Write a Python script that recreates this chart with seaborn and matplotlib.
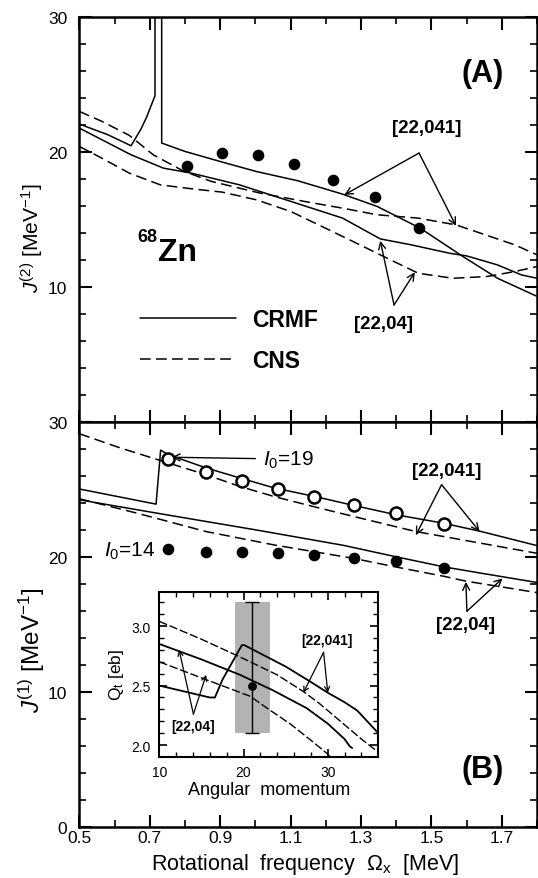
import numpy as np
import matplotlib
matplotlib.use('Agg')
import matplotlib.pyplot as plt
import seaborn as sns
from matplotlib.lines import Line2D

# ---------------- data: panel (A)  J(2) ----------------
a_exp_omega = [0.806, 0.906, 1.008, 1.111, 1.220, 1.339, 1.466]
a_exp_j2 = [19.0, 19.9, 19.75, 19.1, 17.9, 16.7, 14.4]

a_crmf041_omega_lo = [0.50, 0.58, 0.647, 0.675, 0.691, 0.715, 0.715]
a_crmf041_j2_lo = [22.08, 21.3, 20.47, 21.7, 22.58, 24.18, 32.0]
a_crmf041_omega_hi = [0.734, 0.734, 0.80, 0.906, 1.003, 1.121, 1.248, 1.346, 1.468, 1.59, 1.688, 1.80]
a_crmf041_j2_hi = [32.0, 20.67, 20.05, 19.26, 18.56, 17.87, 16.88, 15.97, 14.36, 12.25, 10.64, 9.3]

a_crmf04_omega = [0.50, 0.647, 0.739, 0.818, 0.955, 1.013, 1.101, 1.248, 1.355, 1.443, 1.551, 1.60, 1.688, 1.756, 1.80]
a_crmf04_j2 = [21.78, 19.8, 18.81, 18.44, 17.57, 17.08, 16.34, 15.1, 13.56, 13.12, 12.5, 12.3, 11.63, 10.89, 10.64]

a_cns041_omega = [0.50, 0.564, 0.642, 0.71, 0.798, 0.876, 1.013, 1.15, 1.248, 1.346, 1.463, 1.57, 1.639, 1.737, 1.80]
a_cns041_j2 = [23.02, 22.28, 21.24, 19.8, 18.56, 17.82, 16.96, 16.29, 15.84, 15.35, 15.1, 14.6, 13.99, 13.12, 12.38]

a_cns04_omega = [0.50, 0.564, 0.642, 0.73, 0.818, 0.906, 1.003, 1.101, 1.199, 1.297, 1.394, 1.463, 1.561, 1.658, 1.737, 1.80]
a_cns04_j2 = [20.42, 19.55, 18.44, 17.57, 17.28, 17.03, 16.46, 15.59, 14.36, 13.12, 11.88, 11.01, 10.64, 10.77, 11.14, 11.51]

# ---------------- data: panel (B)  J(1) ----------------
b_exp_omega = [0.752, 0.859, 0.961, 1.063, 1.168, 1.280, 1.400, 1.537]
b_i19_j1 = [27.27, 26.26, 25.59, 25.02, 24.45, 23.85, 23.23, 22.46]
b_i14_j1 = [20.55, 20.35, 20.35, 20.28, 20.13, 19.93, 19.68, 19.19]

b_crmf041_omega = [0.50, 0.718, 0.731, 0.752, 0.86, 0.957, 1.055, 1.168, 1.28, 1.40, 1.534, 1.642, 1.80]
b_crmf041_j1 = [25.02, 23.9, 27.9, 27.57, 26.58, 25.83, 25.09, 24.47, 23.8, 23.11, 22.49, 21.87, 20.83]

b_crmf04_omega = [0.50, 0.75, 1.00, 1.25, 1.40, 1.537, 1.65, 1.80]
b_crmf04_j1 = [24.22, 23.1, 22.0, 20.85, 20.0, 19.25, 18.75, 18.1]

b_cns041_omega = [0.50, 0.615, 0.752, 0.86, 0.957, 1.055, 1.168, 1.28, 1.456, 1.642, 1.80]
b_cns041_j1 = [29.11, 28.07, 26.95, 26.08, 25.2, 24.45, 23.7, 22.98, 21.87, 21.0, 20.26]

b_cns04_omega = [0.50, 0.664, 0.86, 1.055, 1.28, 1.397, 1.537, 1.598, 1.80]
b_cns04_j1 = [24.3, 23.23, 21.87, 20.87, 19.88, 19.26, 18.55, 18.2, 17.35]

# ---------------- data: inset  Qt vs I ----------------
i_crmf041_spin = [10, 13, 16, 16.6, 17.5, 19.8, 20.1, 22, 25, 28, 30, 32, 33.5, 36]
i_crmf041_qt = [2.50, 2.45, 2.40, 2.40, 2.55, 2.84, 2.84, 2.77, 2.66, 2.53, 2.44, 2.36, 2.29, 2.10]

i_cns041_spin = [10, 15, 19.6, 24, 27.1, 29, 31.5, 34, 36]
i_cns041_qt = [3.04, 2.89, 2.74, 2.59, 2.45, 2.35, 2.20, 2.05, 1.94]

i_crmf04_spin = [10, 15, 19.6, 23.5, 27.5, 30, 32, 32.6, 32.9]
i_crmf04_qt = [2.85, 2.72, 2.59, 2.46, 2.31, 2.18, 2.05, 1.99, 1.975]

i_cns04_spin = [10, 15, 20.8, 23, 25.6, 28, 29.9, 30.3]
i_cns04_qt = [2.70, 2.565, 2.41, 2.30, 2.175, 2.04, 1.93, 1.90]

i_exp_spin = [21.0]
i_exp_qt = [2.5]
i_exp_err_lo = [0.4]
i_exp_err_hi = [0.7]
i_band_spin = [19.0, 23.2]
i_band_lo = 2.1
i_band_hi = 3.2

x_ticks = [0.5, 0.7, 0.9, 1.1, 1.3, 1.5, 1.7]
x_ticklabels = ['0.5', '0.7', '0.9', '1.1', '1.3', '1.5', '1.7']
y_ticks = [0, 10, 20, 30]

# ---------------- style ----------------
sns.set_style('ticks')
plt.rcParams['font.family'] = ['Liberation Sans', 'DejaVu Sans']
plt.rcParams['mathtext.fontset'] = 'custom'
plt.rcParams['mathtext.rm'] = 'Liberation Sans'
plt.rcParams['mathtext.it'] = 'Liberation Sans:italic'
plt.rcParams['mathtext.bf'] = 'Liberation Sans:bold'
for k in ['text.color', 'axes.labelcolor', 'xtick.color', 'ytick.color', 'axes.edgecolor']:
    plt.rcParams[k] = 'black'

DASH = (0, (7, 3.5))
LW = 1.1

fig = plt.figure(figsize=(5.38, 8.79), dpi=100)
axA = fig.add_axes([0.1474, 0.5191, 0.8507, 0.4601])
axB = fig.add_axes([0.1474, 0.0580, 0.8507, 0.4611])
axI = fig.add_axes([0.2961, 0.1377, 0.4071, 0.1881])


def curve(ax, x, y, dashed=False, lw=LW, dash=DASH):
    sns.lineplot(x=x, y=y, ax=ax, color='black', lw=lw, sort=False,
                 estimator=None, linestyle=dash if dashed else '-')


def arrows(ax, apex, tips, lw=1.0, hw=0.25, hl=0.5):
    for t in tips:
        ax.annotate('', xy=t, xytext=apex,
                    arrowprops=dict(arrowstyle=f'->,head_length={hl},head_width={hw}',
                                    lw=lw, color='black', shrinkA=0, shrinkB=0))


def style_main(ax, show_x):
    ax.set_xlim(0.5, 1.8)
    ax.set_ylim(0, 30)
    ax.set_xticks(x_ticks)
    ax.set_xticks(np.arange(0.6, 1.81, 0.2), minor=True)
    ax.set_yticks(y_ticks)
    ax.set_yticks(np.arange(2, 30, 2), minor=True)
    ax.tick_params(which='both', direction='in', top=True, right=True, labelsize=12.5,
                   colors='black')
    ax.tick_params(which='major', length=9, width=1.5)
    ax.tick_params(which='minor', length=5, width=1.2)
    ax.tick_params(axis='y', pad=8.5)
    ax.tick_params(axis='x', pad=2.5)
    if show_x:
        ax.set_xticklabels(x_ticklabels)
    else:
        ax.set_xticklabels([])
    for s in ax.spines.values():
        s.set_linewidth(1.8)
        s.set_color('black')
    ax.set_xlabel('')
    ax.set_ylabel('')


# ---------------- panel A ----------------
curve(axA, a_crmf041_omega_lo, a_crmf041_j2_lo)
curve(axA, a_crmf041_omega_hi, a_crmf041_j2_hi)
curve(axA, a_crmf04_omega, a_crmf04_j2)
curve(axA, a_cns041_omega, a_cns041_j2, dashed=True)
curve(axA, a_cns04_omega, a_cns04_j2, dashed=True)
sns.scatterplot(x=a_exp_omega, y=a_exp_j2, ax=axA, s=70, color='black',
                edgecolor='black', linewidth=0, zorder=5)
style_main(axA, False)
axA.set_yticklabels(['', '10', '20', '30'])

axA.text(1.645, 25.9, '(A)', fontsize=22, fontweight='bold', ha='center', va='center')
axA.text(1.487, 21.85, '[22,041]', fontsize=13.5, fontweight='bold', ha='center', va='center')
arrows(axA, (1.465, 19.93), [(1.253, 16.83), (1.570, 14.53)])
axA.text(1.365, 7.3, '[22,04]', fontsize=13.5, fontweight='bold', ha='center', va='center')
arrows(axA, (1.394, 8.66), [(1.355, 13.42), (1.453, 11.09)])
axA.text(0.721, 13.75, '68', fontsize=13, fontweight='bold', ha='right', va='center')
axA.text(0.723, 12.6, 'Zn', fontsize=23, fontweight='bold', ha='left', va='center')

handles = [Line2D([], [], color='black', lw=LW),
           Line2D([], [], color='black', lw=LW, linestyle=DASH)]
leg = axA.legend(handles, ['CRMF', 'CNS'], loc='center left',
                 bbox_to_anchor=(0.133, 0.203), frameon=False,
                 prop={'weight': 'bold', 'size': 16.5}, handlelength=4.2,
                 handletextpad=0.7, labelspacing=0.78, borderpad=0, borderaxespad=0)

# ---------------- panel B ----------------
curve(axB, b_crmf041_omega, b_crmf041_j1)
curve(axB, b_crmf04_omega, b_crmf04_j1)
curve(axB, b_cns041_omega, b_cns041_j1, dashed=True)
curve(axB, b_cns04_omega, b_cns04_j1, dashed=True)
sns.scatterplot(x=b_exp_omega, y=b_i19_j1, ax=axB, s=75, color='white',
                edgecolor='black', linewidth=1.8, zorder=5)
sns.scatterplot(x=b_exp_omega, y=b_i14_j1, ax=axB, s=70, color='black',
                edgecolor='black', linewidth=0, zorder=5)
style_main(axB, True)

axB.text(1.647, 4.3, '(B)', fontsize=22, fontweight='bold', ha='center', va='center')
axB.text(1.544, 26.4, '[22,041]', fontsize=13.5, fontweight='bold', ha='center', va='center')
arrows(axB, (1.529, 25.34), [(1.456, 21.6), (1.637, 21.87)])
axB.text(1.598, 15.0, '[22,04]', fontsize=13.5, fontweight='bold', ha='center', va='center')
arrows(axB, (1.601, 15.97), [(1.598, 18.15), (1.702, 18.40)])
axB.text(1.021, 27.2, r'$I_0$=19', fontsize=15, ha='left', va='center')
arrows(axB, (1.0, 27.27), [(0.762, 27.37)])
axB.text(0.571, 20.5, r'$I_0$=14', fontsize=15, ha='left', va='center')

fig.text(32 / 538, 1 - 238 / 879, r'$J^{(2)}$ [MeV$^{-1}$]', rotation=90,
         fontsize=15.2, ha='center', va='center')
fig.text(32 / 538, 1 - 650 / 879, r'$J^{(1)}$ [MeV$^{-1}$]', rotation=90,
         fontsize=17.5, ha='center', va='center')
fig.text(305 / 538, 1 - 865 / 879, r'Rotational  frequency  $\Omega_{\rm x}$  [MeV]',
         fontsize=15.5, ha='center', va='center')

# ---------------- inset ----------------
axI.fill_between(i_band_spin, i_band_lo, i_band_hi, color='#b3b3b3', lw=0, zorder=0)
curve(axI, i_crmf041_spin, i_crmf041_qt, lw=1.3)
curve(axI, i_cns041_spin, i_cns041_qt, dashed=True, lw=1.0, dash=(0, (6, 2)))
curve(axI, i_crmf04_spin, i_crmf04_qt, lw=1.3)
curve(axI, i_cns04_spin, i_cns04_qt, dashed=True, lw=1.0, dash=(0, (6, 2)))
axI.errorbar(i_exp_spin, i_exp_qt, yerr=[i_exp_err_lo, i_exp_err_hi], fmt='none',
             ecolor='black', elinewidth=1.0, capsize=5, capthick=1.0, zorder=4)
sns.scatterplot(x=i_exp_spin, y=i_exp_qt, ax=axI, s=40, color='black',
                edgecolor='black', linewidth=0, zorder=5)
axI.set_xlim(10, 36)
axI.set_ylim(1.9, 3.29)
axI.set_xticks([10, 20, 30])
axI.set_xticks(np.arange(12, 36, 2), minor=True)
axI.set_yticks([2.0, 2.5, 3.0])
axI.set_yticks(np.arange(2.0, 3.3, 0.1), minor=True)
axI.set_yticklabels(['2.0', '2.5', '3.0'])
axI.tick_params(which='both', direction='in', top=True, right=True, labelsize=10,
                colors='black')
axI.tick_params(which='major', length=6, width=1.2)
axI.tick_params(which='minor', length=3.5, width=1.0)
axI.tick_params(axis='x', pad=6)
axI.tick_params(axis='y', pad=6)
for s in axI.spines.values():
    s.set_linewidth(1.5)
    s.set_color('black')
axI.set_xlabel('Angular  momentum', fontsize=13, labelpad=1)
axI.set_ylabel(r'Q$_{\rm t}$ [eb]', fontsize=12.5, labelpad=4)

axI.text(14.05, 2.16, '[22,04]', fontsize=10, fontweight='bold', ha='center', va='center')
arrows(axI, (14.05, 2.26), [(12.35, 2.80), (15.56, 2.59)], lw=0.9, hw=0.18, hl=0.35)
axI.text(29.9, 2.88, '[22,041]', fontsize=10, fontweight='bold', ha='center', va='center')
arrows(axI, (29.5, 2.78), [(27.1, 2.44), (30.0, 2.44)], lw=0.9, hw=0.18, hl=0.35)

fig.savefig('out.png', dpi=100)
